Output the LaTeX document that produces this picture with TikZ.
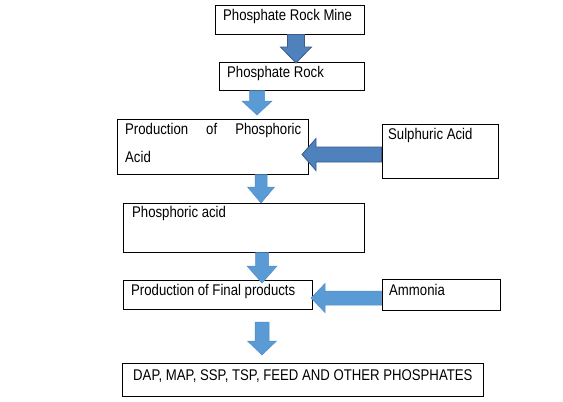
\documentclass[tikz,border=0pt]{standalone}
\usepackage{fontspec}
\setmainfont{Liberation Sans}[FakeStretch=0.85]
\begin{document}
\begin{tikzpicture}[x=1pt,y=-1pt,
  box/.style={draw=black,line width=0.9pt},
  txt/.style={anchor=base west,inner sep=0pt,font=\fontsize{15.5}{18}\selectfont},
  darkarrow/.style={fill={rgb,255:red,79;green,129;blue,189},draw={rgb,255:red,56;green,93;blue,138},line width=0.8pt},
  lightarrow/.style={fill={rgb,255:red,91;green,155;blue,213},draw={rgb,255:red,80;green,140;blue,200},line width=0.5pt}]
\useasboundingbox (0,0) rectangle (563,402);
\fill[white] (0,0) rectangle (563,402);
% boxes
\draw[box] (215,5) rectangle (364,34) coordinate (b1);
\draw[box] (219,62) rectangle (364,90) coordinate (b2);
\draw[box] (117,119) rectangle (308,174) coordinate (b3);
\draw[box] (382,124) rectangle (498,178) coordinate (s1);
\draw[box] (123,203) rectangle (364,252) coordinate (b4);
\draw[box] (123,280) rectangle (312,309) coordinate (b5);
\draw[box] (382,279) rectangle (500,310) coordinate (s2);
\draw[box] (122,363) rectangle (483,396) coordinate (b6);
% texts
\node[txt] (t1) at (223,20) {Phosphate Rock Mine};
\node[txt] (t2) at (227,77) {Phosphate Rock};
\node[txt] (t3) at (125,134) {\makebox[176pt][s]{Production of Phosphoric}};
\node[txt] (t3b) at (125,162) {Acid};
\node[txt] (t4) at (388,139) {Sulphuric Acid};
\node[txt] (t5) at (132,217) {Phosphoric acid};
\node[txt] (t6) at (131,295) {Production of Final products};
\node[txt] (t7) at (389,295) {Ammonia};
\node[txt] (t8) at (133,380) {DAP, MAP, SSP, TSP, FEED AND OTHER PHOSPHATES};
% down arrows: cx, top, shaft hw, head hw, head y, tip y
\newcommand\downarr[7]{%
  \filldraw[#7] ({#1-#3},#2) -- ({#1+#3},#2) -- ({#1+#3},#5) -- ({#1+#4},#5)
    -- (#1,#6) -- ({#1-#4},#5) -- ({#1-#3},#5) -- cycle;}
% left arrows: right x, cy, shaft hw, head hw, head x, tip x
\newcommand\leftarr[7]{%
  \filldraw[#7] (#1,{#2-#3}) -- (#1,{#2+#3}) -- (#5,{#2+#3}) -- (#5,{#2+#4})
    -- (#6,#2) -- (#5,{#2-#4}) -- (#5,{#2-#3}) -- cycle;}
\downarr{296}{34.5}{8.5}{15.5}{47}{63}{darkarrow}
\downarr{257}{90.5}{7.5}{15}{101}{115}{lightarrow}
\downarr{261}{174.5}{6}{13.5}{187}{203}{lightarrow}
\downarr{262}{252.5}{6.5}{15}{266}{283}{lightarrow}
\downarr{262}{322}{7}{14.5}{341}{355}{lightarrow}
\leftarr{381.5}{154.5}{7.5}{16}{316}{302}{darkarrow}
\leftarr{381.5}{298}{7}{14.5}{325}{311}{lightarrow}
\end{tikzpicture}
\end{document}
